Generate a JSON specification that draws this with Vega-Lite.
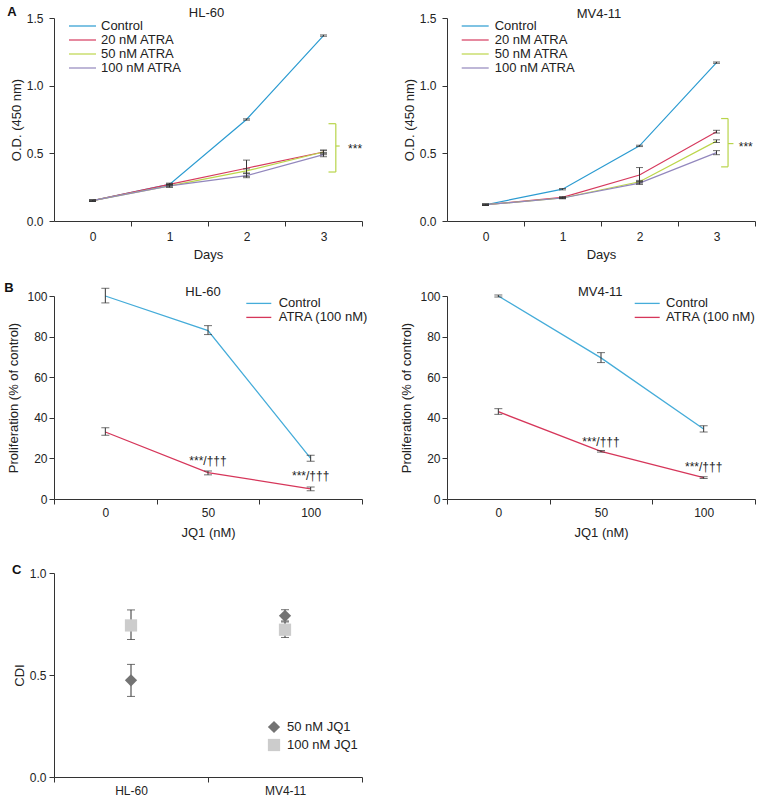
{
"$schema":"https://vega.github.io/schema/vega-lite/v6.json",
"background":"white",
"padding":{"left":4,"top":5,"right":0,"bottom":0},
"config":{
 "font":"Liberation Sans",
 "view":{"stroke":null},
 "axis":{"domainColor":"#333","tickColor":"#333","labelColor":"#222","titleColor":"#222","labelFontSize":12,"titleFontSize":13,"titleFontWeight":"normal","grid":false,"tickSize":5},
 "legend":{"labelFontSize":13,"labelColor":"#222","padding":0},
 "title":{"fontSize":13,"color":"#111"}
},
"datasets":{
 "od":[
  {"cell":"HL-60","group":"Control","day":0,"od":0.15,"lo":0.145,"hi":0.155},
  {"cell":"HL-60","group":"Control","day":1,"od":0.27,"lo":0.265,"hi":0.275},
  {"cell":"HL-60","group":"Control","day":2,"od":0.75,"lo":0.745,"hi":0.755},
  {"cell":"HL-60","group":"Control","day":3,"od":1.37,"lo":1.365,"hi":1.375},
  {"cell":"HL-60","group":"20 nM ATRA","day":0,"od":0.15,"lo":0.145,"hi":0.155},
  {"cell":"HL-60","group":"20 nM ATRA","day":1,"od":0.27,"lo":0.26,"hi":0.28},
  {"cell":"HL-60","group":"20 nM ATRA","day":2,"od":0.39,"lo":0.33,"hi":0.45},
  {"cell":"HL-60","group":"20 nM ATRA","day":3,"od":0.51,"lo":0.49,"hi":0.525},
  {"cell":"HL-60","group":"50 nM ATRA","day":0,"od":0.15,"lo":0.145,"hi":0.155},
  {"cell":"HL-60","group":"50 nM ATRA","day":1,"od":0.26,"lo":0.25,"hi":0.27},
  {"cell":"HL-60","group":"50 nM ATRA","day":2,"od":0.37,"lo":0.355,"hi":0.385},
  {"cell":"HL-60","group":"50 nM ATRA","day":3,"od":0.51,"lo":0.5,"hi":0.52},
  {"cell":"HL-60","group":"100 nM ATRA","day":0,"od":0.15,"lo":0.145,"hi":0.155},
  {"cell":"HL-60","group":"100 nM ATRA","day":1,"od":0.26,"lo":0.25,"hi":0.27},
  {"cell":"HL-60","group":"100 nM ATRA","day":2,"od":0.335,"lo":0.32,"hi":0.35},
  {"cell":"HL-60","group":"100 nM ATRA","day":3,"od":0.49,"lo":0.475,"hi":0.505},
  {"cell":"MV4-11","group":"Control","day":0,"od":0.12,"lo":0.115,"hi":0.125},
  {"cell":"MV4-11","group":"Control","day":1,"od":0.235,"lo":0.23,"hi":0.24},
  {"cell":"MV4-11","group":"Control","day":2,"od":0.555,"lo":0.55,"hi":0.56},
  {"cell":"MV4-11","group":"Control","day":3,"od":1.17,"lo":1.165,"hi":1.175},
  {"cell":"MV4-11","group":"20 nM ATRA","day":0,"od":0.12,"lo":0.115,"hi":0.125},
  {"cell":"MV4-11","group":"20 nM ATRA","day":1,"od":0.175,"lo":0.17,"hi":0.18},
  {"cell":"MV4-11","group":"20 nM ATRA","day":2,"od":0.34,"lo":0.29,"hi":0.395},
  {"cell":"MV4-11","group":"20 nM ATRA","day":3,"od":0.66,"lo":0.65,"hi":0.67},
  {"cell":"MV4-11","group":"50 nM ATRA","day":0,"od":0.12,"lo":0.115,"hi":0.125},
  {"cell":"MV4-11","group":"50 nM ATRA","day":1,"od":0.17,"lo":0.165,"hi":0.175},
  {"cell":"MV4-11","group":"50 nM ATRA","day":2,"od":0.29,"lo":0.28,"hi":0.3},
  {"cell":"MV4-11","group":"50 nM ATRA","day":3,"od":0.59,"lo":0.58,"hi":0.6},
  {"cell":"MV4-11","group":"100 nM ATRA","day":0,"od":0.12,"lo":0.115,"hi":0.125},
  {"cell":"MV4-11","group":"100 nM ATRA","day":1,"od":0.17,"lo":0.165,"hi":0.175},
  {"cell":"MV4-11","group":"100 nM ATRA","day":2,"od":0.28,"lo":0.27,"hi":0.29},
  {"cell":"MV4-11","group":"100 nM ATRA","day":3,"od":0.505,"lo":0.49,"hi":0.52}
 ],
 "prolif":[
  {"cell":"HL-60","group":"Control","jq1":0,"p":100,"lo":96.6,"hi":103.8},
  {"cell":"HL-60","group":"Control","jq1":50,"p":83,"lo":81,"hi":85.4},
  {"cell":"HL-60","group":"Control","jq1":100,"p":20,"lo":18.6,"hi":21.6},
  {"cell":"HL-60","group":"ATRA (100 nM)","jq1":0,"p":33,"lo":31.4,"hi":35.1},
  {"cell":"HL-60","group":"ATRA (100 nM)","jq1":50,"p":13,"lo":11.9,"hi":13.8},
  {"cell":"HL-60","group":"ATRA (100 nM)","jq1":100,"p":5,"lo":4.1,"hi":5.9},
  {"cell":"MV4-11","group":"Control","jq1":0,"p":100,"lo":99.5,"hi":100.5},
  {"cell":"MV4-11","group":"Control","jq1":50,"p":69.5,"lo":67.2,"hi":72.1},
  {"cell":"MV4-11","group":"Control","jq1":100,"p":34.5,"lo":33,"hi":36.1},
  {"cell":"MV4-11","group":"ATRA (100 nM)","jq1":0,"p":43,"lo":41.7,"hi":44.5},
  {"cell":"MV4-11","group":"ATRA (100 nM)","jq1":50,"p":23.5,"lo":23.1,"hi":23.9},
  {"cell":"MV4-11","group":"ATRA (100 nM)","jq1":100,"p":10.5,"lo":10.1,"hi":10.9}
 ],
 "cdi":[
  {"cell":"HL-60","dose":"50 nM JQ1","cdi":0.474,"lo":0.395,"hi":0.552},
  {"cell":"HL-60","dose":"100 nM JQ1","cdi":0.743,"lo":0.674,"hi":0.819},
  {"cell":"MV4-11","dose":"50 nM JQ1","cdi":0.79,"lo":0.765,"hi":0.82},
  {"cell":"MV4-11","dose":"100 nM JQ1","cdi":0.722,"lo":0.684,"hi":0.76}
 ]
},
"resolve":{"scale":{"color":"independent","shape":"independent"},"legend":{"color":"independent","shape":"independent"}},
"vconcat":[
 {"hconcat":[
  {"width":308,"height":203,
   "layer":[
    {"data":{"name":"od"},"transform":[{"filter":"datum.cell === 'HL-60'"}],
     "mark":{"type":"line","strokeWidth":1.2},
     "encoding":{
      "x":{"field":"day","type":"quantitative","scale":{"domain":[-0.5,3.5],"nice":false,"zero":false},
           "axis":{"values":[0,1,2,3],"format":"d","tickOffset":38.5,"labelOffset":-38.5,"labelFlush":false,"title":"Days","labelPadding":5,"titlePadding":6}},
      "y":{"field":"od","type":"quantitative","scale":{"domain":[0,1.5],"nice":false},"axis":{"values":[0,0.5,1,1.5],"format":".1f","labelPadding":6,"titlePadding":3,"title":"O.D. (450 nm)"}},
      "color":{"field":"group","type":"nominal","scale":{"domain":["Control","20 nM ATRA","50 nM ATRA","100 nM ATRA"],"range":["#2b9bd1","#d63a5e","#bcd64b","#9287bd"]},
               "legend":{"orient":"none","legendX":22,"legendY":1.5,"title":null,"symbolType":"M-3,0H3","symbolSize":81,"symbolStrokeWidth":1.2,"rowPadding":0,"labelOffset":12}}
     }},
    {"data":{"name":"od"},"transform":[{"filter":"datum.cell === 'HL-60'"}],
     "mark":{"type":"errorbar","rule":{"color":"#333"},"ticks":{"color":"#333","size":7}},
     "encoding":{"x":{"field":"day","type":"quantitative"},"y":{"field":"lo","type":"quantitative","title":"O.D. (450 nm)"},"y2":{"field":"hi"}}},
    {"data":{"values":[{}]},"mark":{"type":"rule","color":"#b8d44a","strokeWidth":1.2},"encoding":{"x":{"datum":3.065},"x2":{"datum":3.16},"y":{"datum":0.719}}},
    {"data":{"values":[{}]},"mark":{"type":"rule","color":"#b8d44a","strokeWidth":1.2},"encoding":{"x":{"datum":3.065},"x2":{"datum":3.16},"y":{"datum":0.362}}},
    {"data":{"values":[{}]},"mark":{"type":"rule","color":"#b8d44a","strokeWidth":1.2},"encoding":{"x":{"datum":3.16},"y":{"datum":0.362},"y2":{"datum":0.719}}},
    {"data":{"values":[{}]},"mark":{"type":"rule","color":"#b8d44a","strokeWidth":1.2},"encoding":{"x":{"datum":3.16},"x2":{"datum":3.21},"y":{"datum":0.554}}},
    {"data":{"values":[{}]},"mark":{"type":"text","text":"***","fontSize":12,"align":"center","baseline":"middle","dy":3,"color":"#222"},"encoding":{"x":{"datum":3.41},"y":{"datum":0.554}}},
    {"data":{"values":[{}]},"mark":{"type":"text","text":"A","fontSize":13,"fontWeight":"bold","align":"center","baseline":"middle","color":"#111"},"encoding":{"x":{"datum":-1.045},"y":{"datum":1.546}}},
    {"data":{"values":[{}]},"mark":{"type":"text","text":"HL-60","fontSize":13,"align":"center","baseline":"middle","color":"#222"},"encoding":{"x":{"datum":1.48},"y":{"datum":1.535}}}
   ]},
  {"width":308,"height":203,
   "layer":[
    {"data":{"name":"od"},"transform":[{"filter":"datum.cell === 'MV4-11'"}],
     "mark":{"type":"line","strokeWidth":1.2},
     "encoding":{
      "x":{"field":"day","type":"quantitative","scale":{"domain":[-0.5,3.5],"nice":false,"zero":false},
           "axis":{"values":[0,1,2,3],"format":"d","tickOffset":38.5,"labelOffset":-38.5,"labelFlush":false,"title":"Days","labelPadding":5,"titlePadding":6}},
      "y":{"field":"od","type":"quantitative","scale":{"domain":[0,1.5],"nice":false},"axis":{"values":[0,0.5,1,1.5],"format":".1f","labelPadding":6,"titlePadding":3,"title":"O.D. (450 nm)"}},
      "color":{"field":"group","type":"nominal","scale":{"domain":["Control","20 nM ATRA","50 nM ATRA","100 nM ATRA"],"range":["#2b9bd1","#d63a5e","#bcd64b","#9287bd"]},
               "legend":{"orient":"none","legendX":21.7,"legendY":1.5,"title":null,"symbolType":"M-3,0H3","symbolSize":81,"symbolStrokeWidth":1.2,"rowPadding":0,"labelOffset":13}}
     }},
    {"data":{"name":"od"},"transform":[{"filter":"datum.cell === 'MV4-11'"}],
     "mark":{"type":"errorbar","rule":{"color":"#333"},"ticks":{"color":"#333","size":7}},
     "encoding":{"x":{"field":"day","type":"quantitative"},"y":{"field":"lo","type":"quantitative","title":"O.D. (450 nm)"},"y2":{"field":"hi"}}},
    {"data":{"values":[{}]},"mark":{"type":"rule","color":"#b8d44a","strokeWidth":1.2},"encoding":{"x":{"datum":3.06},"x2":{"datum":3.15},"y":{"datum":0.757}}},
    {"data":{"values":[{}]},"mark":{"type":"rule","color":"#b8d44a","strokeWidth":1.2},"encoding":{"x":{"datum":3.06},"x2":{"datum":3.15},"y":{"datum":0.4}}},
    {"data":{"values":[{}]},"mark":{"type":"rule","color":"#b8d44a","strokeWidth":1.2},"encoding":{"x":{"datum":3.15},"y":{"datum":0.4},"y2":{"datum":0.757}}},
    {"data":{"values":[{}]},"mark":{"type":"rule","color":"#b8d44a","strokeWidth":1.2},"encoding":{"x":{"datum":3.15},"x2":{"datum":3.22},"y":{"datum":0.572}}},
    {"data":{"values":[{}]},"mark":{"type":"text","text":"***","fontSize":12,"align":"center","baseline":"middle","dy":3,"color":"#222"},"encoding":{"x":{"datum":3.38},"y":{"datum":0.572}}},
    {"data":{"values":[{}]},"mark":{"type":"text","text":"MV4-11","fontSize":13,"align":"center","baseline":"middle","color":"#222"},"encoding":{"x":{"datum":1.474},"y":{"datum":1.533}}}
   ]}
 ],"spacing":40,
 "resolve":{"scale":{"color":"independent"},"legend":{"color":"independent"}}},
 {"vconcat":[
 {"hconcat":[
  {"width":308,"height":203,
   "layer":[
    {"data":{"name":"prolif"},"transform":[{"filter":"datum.cell === 'HL-60'"}],
     "mark":{"type":"line","strokeWidth":1.3},
     "encoding":{
      "x":{"field":"jq1","type":"quantitative","scale":{"domain":[-25,125],"nice":false,"zero":false},
           "axis":{"values":[-25,0,25,50,75,100,125],"labelExpr":"datum.value % 50 === 0 ? format(datum.value, 'd') : ''","tickOpacity":{"condition":{"test":"datum.value % 50 === 0","value":0},"value":1},"labelOverlap":false,"labelFlush":false,"title":"JQ1 (nM)","labelPadding":3,"titlePadding":8}},
      "y":{"field":"p","type":"quantitative","scale":{"domain":[0,100],"nice":false},"axis":{"values":[0,20,40,60,80,100],"labelPadding":2,"titlePadding":6,"title":"Proliferation (% of control)"}},
      "color":{"field":"group","type":"nominal","scale":{"domain":["Control","ATRA (100 nM)"],"range":["#45acd9","#d6365a"]},
               "legend":{"orient":"none","legendX":198.3,"legendY":0.9,"title":null,"symbolType":"M-3,0H3","symbolSize":69.4,"symbolStrokeWidth":1.3,"rowPadding":-5.5,"labelOffset":13.4}}
     }},
    {"data":{"name":"prolif"},"transform":[{"filter":"datum.cell === 'HL-60'"}],
     "mark":{"type":"errorbar","rule":{"color":"#333"},"ticks":{"color":"#333","size":8}},
     "encoding":{"x":{"field":"jq1","type":"quantitative"},"y":{"field":"lo","type":"quantitative","title":"Proliferation (% of control)"},"y2":{"field":"hi"}}},
    {"data":{"values":[{}]},"mark":{"type":"text","text":"***/†††","fontSize":12,"align":"center","baseline":"middle","color":"#222"},"encoding":{"x":{"datum":50},"y":{"datum":18.7}}},
    {"data":{"values":[{}]},"mark":{"type":"text","text":"***/†††","fontSize":12,"align":"center","baseline":"middle","color":"#222"},"encoding":{"x":{"datum":100},"y":{"datum":11.3}}},
    {"data":{"values":[{}]},"mark":{"type":"text","text":"B","fontSize":13,"fontWeight":"bold","align":"center","baseline":"middle","color":"#111"},"encoding":{"x":{"datum":-46.9},"y":{"datum":104}}},
    {"data":{"values":[{}]},"mark":{"type":"text","text":"HL-60","fontSize":13,"align":"center","baseline":"middle","color":"#222"},"encoding":{"x":{"datum":47.6},"y":{"datum":102.1}}}
   ]},
  {"width":308,"height":203,
   "layer":[
    {"data":{"name":"prolif"},"transform":[{"filter":"datum.cell === 'MV4-11'"}],
     "mark":{"type":"line","strokeWidth":1.3},
     "encoding":{
      "x":{"field":"jq1","type":"quantitative","scale":{"domain":[-25,125],"nice":false,"zero":false},
           "axis":{"values":[-25,0,25,50,75,100,125],"labelExpr":"datum.value % 50 === 0 ? format(datum.value, 'd') : ''","tickOpacity":{"condition":{"test":"datum.value % 50 === 0","value":0},"value":1},"labelOverlap":false,"labelFlush":false,"title":"JQ1 (nM)","labelPadding":3,"titlePadding":8}},
      "y":{"field":"p","type":"quantitative","scale":{"domain":[0,100],"nice":false},"axis":{"values":[0,20,40,60,80,100],"labelPadding":2,"titlePadding":6,"title":"Proliferation (% of control)"}},
      "color":{"field":"group","type":"nominal","scale":{"domain":["Control","ATRA (100 nM)"],"range":["#45acd9","#d6365a"]},
               "legend":{"orient":"none","legendX":193.7,"legendY":0.9,"title":null,"symbolType":"M-3,0H3","symbolSize":69.4,"symbolStrokeWidth":1.3,"rowPadding":-5.5,"labelOffset":12.4}}
     }},
    {"data":{"name":"prolif"},"transform":[{"filter":"datum.cell === 'MV4-11'"}],
     "mark":{"type":"errorbar","rule":{"color":"#333"},"ticks":{"color":"#333","size":8}},
     "encoding":{"x":{"field":"jq1","type":"quantitative"},"y":{"field":"lo","type":"quantitative","title":"Proliferation (% of control)"},"y2":{"field":"hi"}}},
    {"data":{"values":[{}]},"mark":{"type":"text","text":"***/†††","fontSize":12,"align":"center","baseline":"middle","color":"#222"},"encoding":{"x":{"datum":50},"y":{"datum":28}}},
    {"data":{"values":[{}]},"mark":{"type":"text","text":"***/†††","fontSize":12,"align":"center","baseline":"middle","color":"#222"},"encoding":{"x":{"datum":100},"y":{"datum":15.7}}},
    {"data":{"values":[{}]},"mark":{"type":"text","text":"MV4-11","fontSize":13,"align":"center","baseline":"middle","color":"#222"},"encoding":{"x":{"datum":49.6},"y":{"datum":102}}}
   ]}
 ],"spacing":31,
 "resolve":{"scale":{"color":"independent"},"legend":{"color":"independent"}}},
 {"hconcat":[
 {"width":308,"height":204,
  "title":{"text":"C","anchor":"start","frame":"group","dx":-42,"fontWeight":"bold","fontSize":13,"offset":-20,"baseline":"alphabetic"},
  "data":{"name":"cdi"},
  "layer":[
   {"mark":{"type":"errorbar","rule":{"color":"#333"},"ticks":{"color":"#333","size":8}},
    "encoding":{"x":{"field":"cell","type":"nominal","scale":{"type":"band","paddingInner":0,"paddingOuter":0},"axis":{"tickBand":"extent","labelAngle":0,"title":null,"labelPadding":3}},
                "y":{"field":"lo","type":"quantitative","scale":{"domain":[0,1],"nice":false},"title":"CDI"},"y2":{"field":"hi"}}},
   {"mark":{"type":"point","filled":true,"opacity":1,"size":150},
    "encoding":{"x":{"field":"cell","type":"nominal","scale":{"type":"band","paddingInner":0,"paddingOuter":0}},
                "y":{"field":"cdi","type":"quantitative","axis":{"values":[0,0.5,1],"format":".1f","title":"CDI","labelPadding":3,"titlePadding":3}},
                "shape":{"field":"dose","type":"nominal","scale":{"domain":["50 nM JQ1","100 nM JQ1"],"range":["diamond","square"]},"legend":{"orient":"none","legendX":213,"legendY":147,"title":null,"symbolSize":150,"rowPadding":4,"labelOffset":6}},
                "color":{"field":"dose","type":"nominal","scale":{"domain":["50 nM JQ1","100 nM JQ1"],"range":["#737373","#cccccc"]},"legend":{"orient":"none","legendX":213,"legendY":147,"title":null,"symbolSize":150,"rowPadding":4,"labelOffset":6}}}}
  ]}
 ],
 "resolve":{"scale":{"color":"independent","shape":"independent"},"legend":{"color":"independent","shape":"independent"}}}
 ],"spacing":25,"align":"none",
 "resolve":{"scale":{"color":"independent","shape":"independent"},"legend":{"color":"independent","shape":"independent"}}}
],
"spacing":20
}
